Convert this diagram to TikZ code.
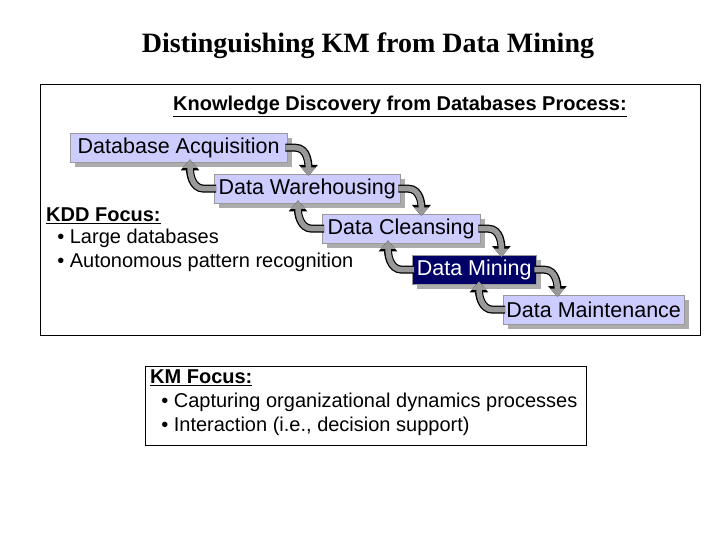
\documentclass[tikz,border=0pt]{standalone}
\usepackage{fontspec}
\setmainfont{Liberation Sans}
\newfontfamily\titlefont{Liberation Serif}
\usetikzlibrary{arrows.meta}
\definecolor{boxfill}{HTML}{CCCCFF}
\definecolor{navy}{HTML}{000066}
\definecolor{arrgray}{HTML}{999999}
\begin{document}
\begin{tikzpicture}[x=1pt,y=-1pt,
  stepbox/.style={draw=black!40,fill=boxfill,minimum height=29pt,inner xsep=3pt,font=\fontsize{21.5}{23}\selectfont,anchor=north west},
  arrback/.style={line width=8pt,draw=black,-{Triangle[length=11pt,width=18pt]}},
  arrfront/.style={line width=5.5pt,draw=arrgray,-{Triangle[length=8.5pt,width=14pt]}},
  txt/.style={font=\fontsize{20}{24}\selectfont,anchor=north west,align=left,inner sep=0pt}]
\useasboundingbox (0,0) rectangle (720,540);
\node[font=\titlefont\bfseries\fontsize{28}{32}\selectfont] (title) at (368,46) {Distinguishing KM from Data Mining};
\node[draw,line width=1pt,minimum width=660pt,minimum height=251pt,anchor=north west] (frame) at (40,84) {};
\node[font=\bfseries\fontsize{20}{22}\selectfont] (kdd) at (400,106) {\underline{Knowledge Discovery from Databases Process:}};
% shadows
\foreach \x/\y/\w in {70/133/217,214/174/186,322/214/158,412/255/124,503/295/181}
  \fill[gray!65] (\x+5,\y+5) rectangle (\x+\w+5,\y+29+5);
\node[stepbox,minimum width=217pt] (s1) at (70,133) {Database Acquisition};
\node[stepbox,minimum width=186pt] (s2) at (214,174) {Data Warehousing};
\node[stepbox,minimum width=158pt] (s3) at (322,214) {Data Cleansing};
\node[stepbox,minimum width=124pt,fill=navy,text=white] (s4) at (412,255) {Data Mining};
\node[stepbox,minimum width=181pt] (s5) at (503,295) {Data Maintenance};
% arrows
\foreach \a/\b in {s1/s2,s2/s3,s3/s4,s4/s5}{
  \foreach \st in {arrback,arrfront}{
    \draw[\st] ([xshift=-2pt]\a.east) -- ++(10,0) to[out=0,in=90] ([xshift=21pt,yshift=-2pt]\a.east |- \b.north);
    \draw[\st] ([xshift=2pt]\b.west) -- ++(-12,0) to[out=180,in=-90] ([xshift=-24pt,yshift=3pt]\b.west |- \a.south);
  }
}
\node[txt] (kddf) at (46,208) {\textbf{\underline{KDD Focus:}}\\[-2pt]
 \ \ \textbullet\ Large databases\\
 \ \ \textbullet\ Autonomous pattern recognition};
\node[draw,line width=1pt,minimum width=441pt,minimum height=79pt,anchor=north west] (km) at (145,366) {};
\node[txt] (kmf) at (150,370) {\textbf{\underline{KM Focus:}}\\
 \ \ \textbullet\ Capturing organizational dynamics processes\\
 \ \ \textbullet\ Interaction (i.e., decision support)};
\end{tikzpicture}
\end{document}
